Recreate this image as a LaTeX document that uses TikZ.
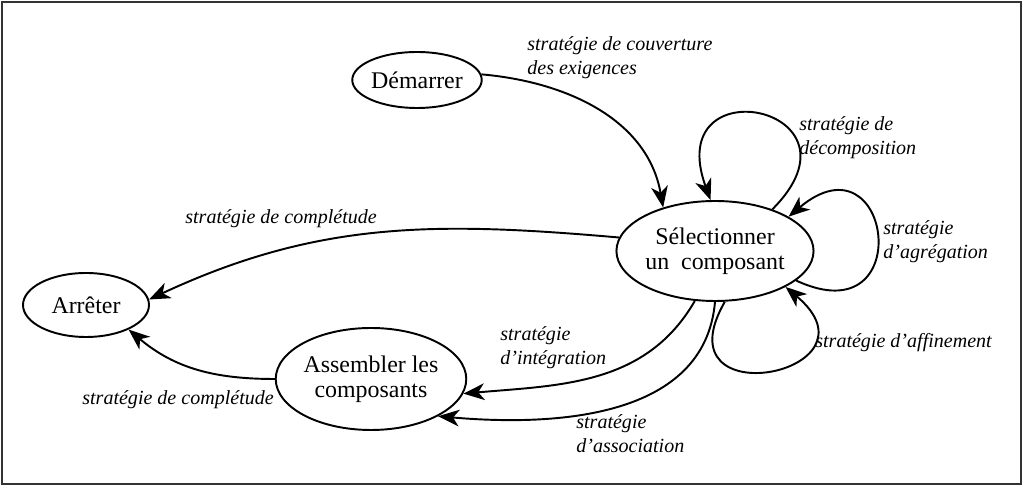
\documentclass[tikz,border=0pt]{standalone}
\usepackage{fontspec}
\setmainfont{Liberation Serif}
\usetikzlibrary{shapes.geometric,arrows.meta}

\begin{document}
\begin{tikzpicture}[
    etat/.style={draw,ellipse,line width=1.1pt,inner sep=0pt,align=center,
      font=\fontsize{13.6}{14.2}\selectfont},
    strat/.style={anchor=west,inner sep=0pt,align=left,
      font=\fontsize{11.4}{13.6}\selectfont\itshape},
    fl/.style={line width=1.1pt,-{Stealth[length=12pt,width=9.5pt,inset=3.5pt]}}]
  \useasboundingbox (0,0) rectangle (20.48,9.76);
  \draw[line width=1.1pt,black!80] (0.04,0.08) rectangle (20.42,9.72);

  % etats
  \node[etat,minimum width=2.56cm,minimum height=1.12cm] (start) at (8.34,8.16) {Démarrer};
  \node[etat,minimum width=3.52cm,minimum height=2cm] (select) at (14.30,4.74) {Sélectionner\\un\ \ composant};
  \node[etat,minimum width=2.52cm,minimum height=1.28cm] (stop) at (1.72,3.66) {Arrêter};
  \node[etat,minimum width=3.52cm,minimum height=2.04cm] (assemble) at (7.42,2.18) {Assembler les\\composants};

  % strategies
  \draw[fl] (start.5) to[out=-5,in=100] (select.140);
  \draw[fl] (select.36) .. controls +(45:2.9) and +(110:2.9) .. (select.95);
  \draw[fl] (select.-20) .. controls +(-25:2.7) and +(40:2.7) .. (select.25);
  \draw[fl] (select.-79) .. controls +(-120:2.7) and +(-40:2.7) .. (select.-27);
  \draw[fl] (select.172) to[out=175,in=25] (stop.5);
  \draw[fl] (assemble.west) to[out=180,in=-40] (stop.-30);
  \draw[fl] (select.-112) to[out=-120,in=5] (assemble.-9);
  \draw[fl] (select.-90) to[out=-95,in=-5] (assemble.-29);

  % etiquettes
  \node[strat] (couv) at (10.54,8.60) {stratégie de couverture\\des exigences};
  \node[strat] (decomp) at (15.98,7.00) {stratégie de\\décomposition};
  \node[strat] (agreg) at (17.66,4.92) {stratégie\\d’agrégation};
  \node[strat] (affin) at (16.30,2.90) {stratégie d’affinement};
  \node[strat] (compl1) at (3.70,5.38) {stratégie de complétude};
  \node[strat] (compl2) at (1.64,1.76) {stratégie de complétude};
  \node[strat] (integ) at (10.00,2.80) {stratégie\\d’intégration};
  \node[strat] (assoc) at (11.52,1.08) {stratégie\\d’association};
\end{tikzpicture}
\end{document}
